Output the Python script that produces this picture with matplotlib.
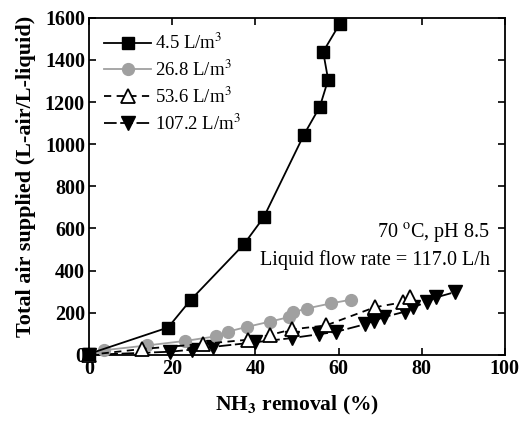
import matplotlib
matplotlib.use("Agg")
import matplotlib.pyplot as plt

plt.rcParams['font.family'] = ['Liberation Serif', 'DejaVu Serif']
plt.rcParams['mathtext.fontset'] = 'stix'

# 4.5 L/m3
x1 = [0, 19, 24.4, 37.2, 42, 51.7, 55.5, 57.5, 56.3, 60.3]
y1 = [5, 130, 260, 524, 653, 1046, 1178, 1306, 1439, 1572]
# 26.8 L/m3
x2 = [0, 3.5, 14, 23, 30.5, 33.3, 38, 43.5, 48.2, 49, 52.3, 58.3, 63]
y2 = [0, 22, 45, 66, 88, 110, 133, 158, 180, 202, 220, 245, 262]
# 53.6 L/m3
x3 = [0, 12.7, 27.4, 38.2, 43.6, 48.8, 57, 68.7, 75.5, 77.3]
y3 = [0, 28, 52, 72, 95, 121, 140, 226, 250, 273]
# 107.2 L/m3
x4 = [0, 19.5, 24.7, 29.8, 40, 48.8, 55.3, 59.5, 66.3, 68.5, 71, 76, 78, 81.3, 83.5, 88]
y4 = [0, 15, 25, 38, 60, 80, 98, 110, 145, 162, 180, 205, 226, 252, 273, 298]

labels = ["4.5 L/m$^3$", "26.8 L/m$^3$", "53.6 L/m$^3$", "107.2 L/m$^3$"]

fig = plt.figure(figsize=(5.21, 4.24), dpi=100)
ax = fig.add_axes([0.171, 0.163, 0.798, 0.795])

ax.plot(x1, y1, color='black', lw=1.3, marker='s', ms=8, label=labels[0], clip_on=False, zorder=4)
ax.plot(x2, y2, color='#a0a0a0', lw=1.3, marker='o', ms=8.5, label=labels[1], clip_on=False, zorder=3)
ax.plot(x3, y3, color='black', lw=1.3, ls=(0, (4, 3)), marker='^', ms=9.5, mfc='white', mew=1.3,
        label=labels[2], clip_on=False, zorder=3)
ax.plot(x4, y4, color='black', lw=1.3, ls=(0, (7, 2)), marker='v', ms=9.5, label=labels[3],
        clip_on=False, zorder=2)

ax.set_xlim(0, 100)
ax.set_ylim(0, 1600)
ax.set_xticks(range(0, 101, 20))
ax.set_yticks(range(0, 1601, 200))
ax.tick_params(direction='in', top=True, right=True, length=5, width=1.2, labelsize=14.5, pad=3)
for lab in ax.get_xticklabels() + ax.get_yticklabels():
    lab.set_fontweight('bold')
for s in ax.spines.values():
    s.set_linewidth(1.3)

ax.set_xlabel("NH$_\\mathbf{3}$ removal (%)", fontsize=15.5, fontweight='bold', labelpad=11)
ax.set_ylabel("Total air supplied (L-air/L-liquid)", fontsize=16, fontweight='bold')
ax.yaxis.set_label_coords(-0.128, 0.53)

ax.text(96.5, 579, "70 $^\\mathrm{o}$C, pH 8.5", ha='right', va='center', fontsize=14.5)
ax.text(96.5, 451, "Liquid flow rate = 117.0 L/h", ha='right', va='center', fontsize=14.5)

ax.legend(loc='upper left', frameon=False, fontsize=13.5, handlelength=2.5, handletextpad=0.2,
          labelspacing=0.35, borderaxespad=0.4)

fig.savefig("out.png", dpi=100)
